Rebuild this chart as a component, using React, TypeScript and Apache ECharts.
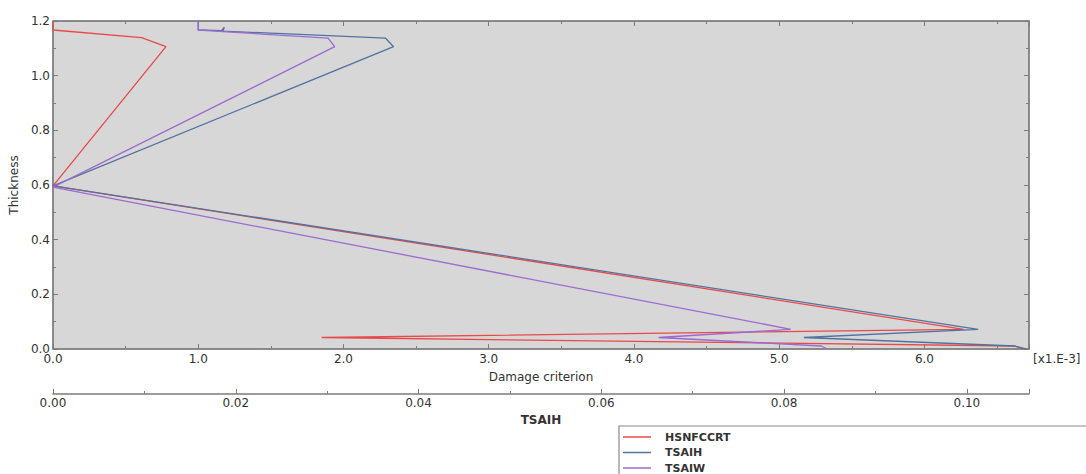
import React, { useEffect, useRef } from 'react';
import * as echarts from 'echarts';

// ---- data (damage criterion in x1.E-3 units, thickness) ----
const seriesNames = ['HSNFCCRT', 'TSAIH', 'TSAIW'];

const hsnThickness = [1.2, 1.167, 1.139, 1.106, 0.597, 0.072, 0.042, 0.011, 0.0];
const hsnDamage = [0.0, 0.0, 0.61, 0.778, 0.0, 6.27, 1.85, 6.62, 6.68];

const tsaihThickness = [1.2, 1.167, 1.165, 1.177, 1.163, 1.137, 1.106, 0.597, 0.072, 0.042, 0.011, 0.0];
const tsaihDamage = [1.0, 1.0, 1.16, 1.18, 1.17, 2.29, 2.345, 0.0, 6.37, 5.17, 6.62, 6.70];

const tsaiwThickness = [1.2, 1.167, 1.137, 1.106, 0.592, 0.072, 0.042, 0.011, 0.0];
const tsaiwDamage = [1.0, 1.0, 1.894, 1.94, 0.0, 5.08, 4.17, 5.29, 5.33];

const damageMax = 6.72;
const tsaihAxisMax = 0.1068;
const thicknessMax = 1.2;

const seriesColors = ['#e84a4a', '#52739f', '#9b6bd0'];

const toPairs = (xs: number[], ys: number[]) => xs.map((x, i) => [x, ys[i]]);

export default function App() {
  const ref = useRef<HTMLDivElement>(null);

  useEffect(() => {
    if (!ref.current) return;
    const chart = echarts.init(ref.current, null, { renderer: 'svg' });
    const font = 'DejaVu Sans';
    const axisColor = '#7c7c7c';
    const textColor = '#333333';

    const tickCommon = {
      axisLine: { show: true, onZero: false, lineStyle: { color: axisColor, width: 1.5 } },
      axisTick: { show: true, inside: true, length: 5, lineStyle: { color: axisColor, width: 1 } },
      minorTick: { show: true, splitNumber: 2, length: 3, lineStyle: { color: axisColor, width: 1 } },
      splitLine: { show: false },
      minorSplitLine: { show: false },
    };

    const datasets = [
      toPairs(hsnDamage, hsnThickness),
      toPairs(tsaihDamage, tsaihThickness),
      toPairs(tsaiwDamage, tsaiwThickness),
    ];

    const legendRowsY = [437, 452.5, 468];
    const legendGraphics: any[] = [];
    seriesNames.forEach((name, i) => {
      legendGraphics.push({
        type: 'line',
        z: 5,
        shape: { x1: 623, y1: legendRowsY[i], x2: 651, y2: legendRowsY[i] },
        style: { stroke: seriesColors[i], lineWidth: 1.5 },
      });
      legendGraphics.push({
        type: 'text',
        z: 5,
        x: 665,
        y: legendRowsY[i],
        style: {
          text: name,
          fill: textColor,
          font: `bold 11px "${font}"`,
          verticalAlign: 'middle',
          align: 'left',
        },
      });
    });

    chart.setOption({
      animation: false,
      backgroundColor: '#ffffff',
      grid: {
        left: 48,
        top: 21,
        width: 981,
        height: 328,
        show: true,
        backgroundColor: '#d7d7d7',
        borderColor: axisColor,
        borderWidth: 1,
        containLabel: false,
      },
      xAxis: [
        {
          type: 'value',
          position: 'bottom',
          min: 0,
          max: damageMax,
          interval: 1,
          ...tickCommon,
          axisLabel: {
            formatter: (v: number) => v.toFixed(1),
            margin: 4,
            color: textColor,
            fontFamily: font,
            fontSize: 12,
            showMaxLabel: false,
          },
          name: 'Damage criterion',
          nameLocation: 'middle',
          nameGap: 22,
          nameTextStyle: { color: textColor, fontFamily: font, fontSize: 12 },
        },
        {
          type: 'value',
          position: 'bottom',
          offset: 45,
          min: 0,
          max: tsaihAxisMax,
          interval: 0.02,
          ...tickCommon,
          axisLabel: {
            formatter: (v: number) => v.toFixed(2),
            margin: 3,
            color: textColor,
            fontFamily: font,
            fontSize: 12,
            showMaxLabel: false,
          },
          name: 'TSAIH',
          nameLocation: 'middle',
          nameGap: 17,
          nameTextStyle: { color: textColor, fontFamily: font, fontSize: 12, fontWeight: 'bold' },
        },
        {
          type: 'value',
          position: 'top',
          min: 0,
          max: damageMax,
          interval: 1,
          ...tickCommon,
          axisLabel: { show: false },
        },
      ],
      yAxis: [
        {
          type: 'value',
          position: 'left',
          min: 0,
          max: thicknessMax,
          interval: 0.2,
          ...tickCommon,
          axisLabel: {
            formatter: (v: number) => v.toFixed(1),
            margin: 3,
            color: textColor,
            fontFamily: font,
            fontSize: 12,
          },
          name: 'Thickness',
          nameLocation: 'middle',
          nameGap: 26,
          nameTextStyle: { color: textColor, fontFamily: font, fontSize: 12 },
        },
        {
          type: 'value',
          position: 'right',
          min: 0,
          max: thicknessMax,
          interval: 0.2,
          ...tickCommon,
          axisLabel: { show: false },
        },
      ],
      graphic: [
        {
          type: 'rect',
          z: 1,
          shape: { x: 619, y: 426, width: 480, height: 60 },
          style: { fill: '#ffffff', stroke: '#8a8a8a', lineWidth: 1.2 },
        },
        ...legendGraphics,
        {
          type: 'text',
          x: 1033,
          y: 359,
          style: {
            text: '[x1.E-3]',
            fill: textColor,
            font: `12px "${font}"`,
            verticalAlign: 'middle',
            align: 'left',
          },
        },
      ],
      series: seriesNames.map((name, i) => ({
        name,
        type: 'line',
        xAxisIndex: 0,
        yAxisIndex: 0,
        data: datasets[i],
        showSymbol: false,
        symbol: 'none',
        color: seriesColors[i],
        lineStyle: { color: seriesColors[i], width: 1.3 },
        itemStyle: { color: seriesColors[i] },
      })),
    });

    return () => chart.dispose();
  }, []);

  return (
    <div
      ref={ref}
      style={{ position: 'fixed', left: 0, top: 0, width: 1086, height: 474 }}
    />
  );
}
